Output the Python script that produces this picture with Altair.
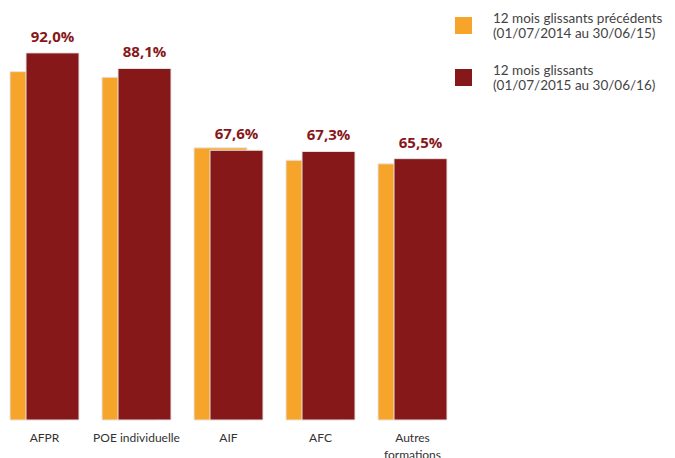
import altair as alt
import pandas as pd

categories = ["AFPR", "POE individuelle", "AIF", "AFC", "Autres formations"]
prev_values = [87.3, 85.9, 68.2, 65.1, 64.2]
curr_values = [92.0, 88.1, 67.6, 67.3, 65.5]
series_prev = "12 mois glissants précédents|(01/07/2014 au 30/06/15)"
series_curr = "12 mois glissants|(01/07/2015 au 30/06/16)"

ORANGE = "#F6A52A"
RED = "#86181A"

rows = []
for c, p, v in zip(categories, prev_values, curr_values):
    rows.append({"cat": c, "series": series_prev, "value": p})
    rows.append({"cat": c, "series": series_curr, "value": v})
df = pd.DataFrame(rows)

x = alt.X("cat:N", sort=categories, title=None,
          scale=alt.Scale(paddingInner=0, paddingOuter=0),
          axis=alt.Axis(labelAngle=0, domain=False, ticks=False, labelPadding=12,
                        labelOffset=-9.5, labelFontSize=12, labelColor="#333333",
                        labelFont="Lato", labelLimit=200, labelLineHeight=17,
                        labelBaseline="top",
                        labelExpr="datum.label == 'Autres formations' ? ['Autres', 'formations'] : datum.label"))
y = alt.Y("value:Q", scale=alt.Scale(domain=[0, 102], nice=False), axis=None, title=None)
color = alt.Color("series:N", sort=[series_prev, series_curr],
                  scale=alt.Scale(domain=[series_prev, series_curr], range=[ORANGE, RED]),
                  legend=alt.Legend(title=None, orient="none", legendX=447, legendY=4,
                                    symbolType="square", symbolSize=289, symbolStrokeWidth=0,
                                    labelFontSize=13.5, labelFont="Lato", labelColor="#444444",
                                    labelLimit=0, labelOffset=21, rowPadding=22,
                                    labelExpr="split(datum.label, '|')", labelBaseline="bottom"))

base = alt.Chart(df)
prev_bars = base.transform_filter(alt.datum.series == series_prev).mark_bar(
    width=53, xOffset=-17.5, stroke="#e4e4e4", strokeWidth=1
).encode(x=x, y=y, color=color)
curr_bars = base.transform_filter(alt.datum.series == series_curr).mark_bar(
    width=53, xOffset=-1.5, stroke="#e4e4e4", strokeWidth=1
).encode(x=x, y=y, color=color)
labels = base.transform_filter(alt.datum.series == series_curr).transform_calculate(
    lab="replace(format(datum.value, '.1f'), '.', ',') + '%'"
).mark_text(xOffset=-1.5, dy=-8, baseline="bottom", fontSize=15, fontWeight="bold",
            font="Open Sans", color=RED).encode(x=x, y=y, text="lab:N")

chart = alt.layer(prev_bars, curr_bars, labels).properties(
    width=460, height=407,
    autosize=alt.AutoSizeParams(type="none"),
    padding={"left": 0, "top": 5, "right": 199, "bottom": 38},
).configure_view(stroke=None)

chart.save("out.html", embed_options={"renderer": "svg", "actions": False})
